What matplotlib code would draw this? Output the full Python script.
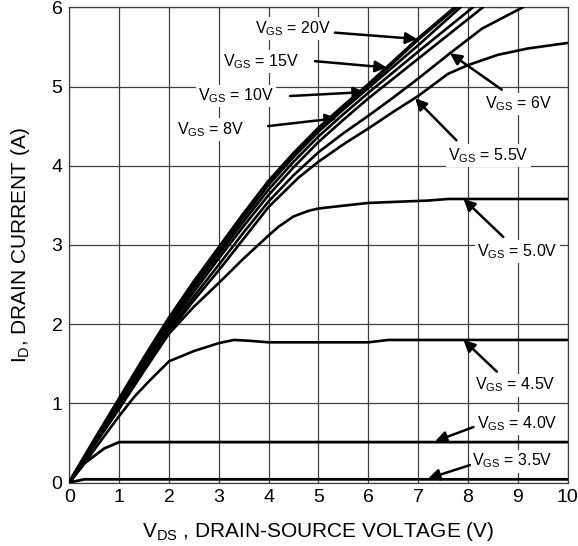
#!/usr/bin/env python3
"""
Output characteristics: drain current vs drain-source voltage for several V_GS.
"""
import matplotlib
matplotlib.use("Agg")
import matplotlib.pyplot as plt

plt.rcParams["font.family"] = ["Liberation Sans", "DejaVu Sans"]

# gate voltages and the curves (V_DS in V, I_D in A)
vgs_labels = ["20V", "15V", "10V", "8V", "6V", "5.5V", "5.0V", "4.5V", "4.0V", "3.5V"]

vds_20 = [0, 0.5, 1, 1.5, 2, 2.5, 3, 3.5, 4, 4.5, 5, 5.5, 6, 6.5, 7, 7.75]
id_20 = [0, 0.53, 1.05, 1.57, 2.07, 2.53, 2.96, 3.39, 3.80, 4.15, 4.47, 4.75, 5.02, 5.31, 5.60, 6.0]

vds_15 = [0, 0.5, 1, 1.5, 2, 2.5, 3, 3.5, 4, 4.5, 5, 5.5, 6, 6.5, 7, 7.85]
id_15 = [0, 0.52, 1.03, 1.54, 2.04, 2.50, 2.92, 3.35, 3.76, 4.11, 4.43, 4.71, 4.98, 5.25, 5.52, 6.0]

vds_10 = [0, 0.5, 1, 1.5, 2, 2.5, 3, 3.5, 4, 4.5, 5, 5.5, 6, 6.5, 7, 8.1]
id_10 = [0, 0.51, 1.01, 1.51, 2.01, 2.46, 2.88, 3.30, 3.70, 4.05, 4.37, 4.65, 4.92, 5.18, 5.44, 6.0]

vds_8 = [0, 0.5, 1, 1.5, 2, 2.5, 3, 3.5, 4, 4.5, 5, 5.5, 6, 6.5, 7, 8.3]
id_8 = [0, 0.50, 0.99, 1.49, 1.97, 2.41, 2.83, 3.24, 3.63, 3.98, 4.30, 4.58, 4.85, 5.10, 5.35, 6.0]

vds_6 = [0, 0.5, 1, 1.5, 2, 2.5, 3, 3.5, 4, 4.5, 5, 5.5, 6, 6.5, 7, 7.64, 8.28, 9.1]
id_6 = [0, 0.49, 0.97, 1.46, 1.93, 2.35, 2.75, 3.16, 3.55, 3.88, 4.17, 4.41, 4.63, 4.86, 5.10,
        5.42, 5.73, 6.0]

vds_55 = [0, 0.5, 1, 1.5, 2, 2.5, 3, 3.5, 4, 4.6, 5, 5.5, 6, 6.5, 7, 7.6, 8, 8.6, 9.2, 10]
id_55 = [0, 0.48, 0.95, 1.43, 1.90, 2.30, 2.68, 3.08, 3.48, 3.85, 4.05, 4.27, 4.47, 4.68, 4.88,
         5.16, 5.27, 5.40, 5.48, 5.55]

vds_50 = [0, 0.5, 1, 1.5, 2, 2.5, 3, 3.5, 4, 4.2, 4.5, 4.8, 5, 6, 7.2, 7.6, 10]
id_50 = [0, 0.47, 0.93, 1.41, 1.88, 2.22, 2.52, 2.83, 3.12, 3.23, 3.36, 3.43, 3.46, 3.53, 3.56,
         3.58, 3.58]

vds_45 = [0, 0.3, 0.6, 1, 1.3, 1.6, 2, 2.5, 3, 3.3, 3.6, 4, 6, 6.4, 10]
id_45 = [0, 0.24, 0.50, 0.84, 1.08, 1.28, 1.53, 1.66, 1.76, 1.80, 1.79, 1.77, 1.77, 1.80, 1.80]

vds_40 = [0, 0.3, 0.7, 1.0, 10]
id_40 = [0, 0.24, 0.43, 0.51, 0.51]

vds_35 = [0, 0.3, 10]
id_35 = [0, 0.04, 0.04]

curves = [
    (vds_20, id_20, 2.8),
    (vds_15, id_15, 1.9),
    (vds_10, id_10, 1.9),
    (vds_8, id_8, 1.9),
    (vds_6, id_6, 1.9),
    (vds_55, id_55, 1.9),
    (vds_50, id_50, 1.9),
    (vds_45, id_45, 1.9),
    (vds_40, id_40, 2.0),
    (vds_35, id_35, 2.0),
]

# label anchor (left, middle) and arrow (start -> tip), in data units
label_pos = [(3.72, 5.73), (3.08, 5.32), (2.58, 4.88), (2.16, 4.46), (8.34, 4.78),
             (7.60, 4.13), (8.18, 2.92), (8.14, 1.23), (8.18, 0.74), (8.08, 0.27)]
arrow_from = [(5.33, 5.68), (4.93, 5.32), (4.43, 4.88), (3.99, 4.50), (8.68, 4.96),
              (7.77, 4.32), (8.71, 3.10), (8.58, 1.40), (8.11, 0.70), (8.04, 0.22)]
arrow_to = [(6.98, 5.60), (6.37, 5.24), (5.93, 4.93), (5.37, 4.60), (7.64, 5.42),
            (6.94, 4.85), (7.91, 3.58), (7.91, 1.80), (7.34, 0.52), (7.20, 0.05)]

fig = plt.figure(figsize=(5.78, 5.46), dpi=100)
ax = fig.add_axes([0.120, 0.1163, 0.862, 0.8703])

for vds, idr, lw in curves:
    ax.plot(vds, idr, color="black", lw=lw, solid_joinstyle="round", zorder=3)

for lab, (tx, ty), start, tip in zip(vgs_labels, label_pos, arrow_from, arrow_to):
    ax.text(tx, ty, r"$\mathregular{V_{GS}}$ = " + lab, fontsize=11.5, ha="left", va="center",
            bbox=dict(facecolor="white", edgecolor="none", pad=1.5), zorder=4)
    ax.annotate("", xy=tip, xytext=start,
                arrowprops=dict(arrowstyle="-|>", color="black", lw=1.8,
                                mutation_scale=17, shrinkA=0, shrinkB=0),
                zorder=5)

ax.set_xlim(0, 10)
ax.set_ylim(0, 6)
ax.set_xticks(range(0, 11))
ax.set_yticks(range(0, 7))
ax.grid(True, color="#404040", lw=0.9)
ax.set_axisbelow(True)
ax.tick_params(length=0, labelsize=14, pad=5)
for s in ax.spines.values():
    s.set_color("#404040")
    s.set_linewidth(0.9)

ax.set_xlabel(r"$\mathregular{V_{DS}}$ , DRAIN-SOURCE VOLTAGE (V)", fontsize=15, labelpad=10)
ax.set_ylabel(r"$\mathregular{I_D}$, DRAIN CURRENT (A)", fontsize=15, labelpad=14)

fig.savefig("out.png", dpi=100)
